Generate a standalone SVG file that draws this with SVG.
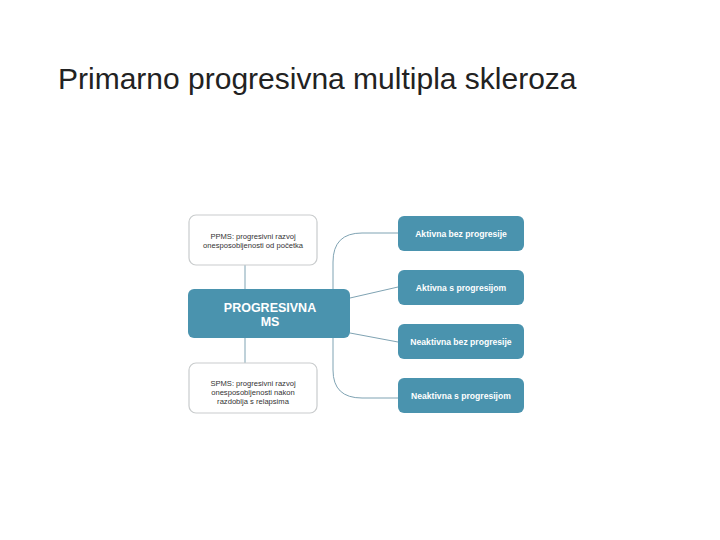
<svg xmlns="http://www.w3.org/2000/svg" width="720" height="540" viewBox="0 0 720 540">
<style>
.title{font-family:"Liberation Sans",Arial,sans-serif;font-size:30px;fill:#222}
.wbox{fill:#fff;stroke:#c9cccd;stroke-width:1.2}
.bbox{fill:#4a93ae}
.dt{font-family:"Liberation Sans",Arial,sans-serif;font-size:7.6px;fill:#333;text-anchor:middle}
.lt{font-family:"Liberation Sans",Arial,sans-serif;font-size:8.6px;fill:#fff;text-anchor:middle;font-weight:bold}
.ct{font-family:"Liberation Sans",Arial,sans-serif;font-size:12.5px;fill:#fff;text-anchor:middle;font-weight:bold}
.conn{fill:none;stroke:#7fa3b3;stroke-width:1}
</style>
<rect width="720" height="540" fill="#fff"/>
<text class="title" x="58" y="89">Primarno progresivna multipla skleroza</text>
<g id="connectors">
<path class="conn" d="M245,265 V289 M245,338 V363"/>
<path class="conn" d="M398,233 H362 Q333,233 333,262 V370 Q333,398 362,398 H398"/>
<path class="conn" d="M350,298 L398,287 M350,333 L398,342"/>
</g>
<g id="ppms">
<rect class="wbox" x="189" y="215" width="128" height="50" rx="7"/>
<text class="dt" x="253" y="238.5">PPMS: progresivni razvoj</text>
<text class="dt" x="253" y="248">onesposobljenosti od početka</text>
</g>
<g id="spms">
<rect class="wbox" x="189" y="363" width="128" height="50" rx="7"/>
<text class="dt" x="253" y="385.5">SPMS: progresivni razvoj</text>
<text class="dt" x="253" y="394.5">onesposobljenosti nakon</text>
<text class="dt" x="253" y="403.5">razdoblja s relapsima</text>
</g>
<g id="center">
<rect class="bbox" x="188" y="289" width="162" height="49" rx="6"/>
<text class="ct" x="270" y="311.5">PROGRESIVNA</text>
<text class="ct" x="270" y="325.5">MS</text>
</g>
<g id="r1">
<rect class="bbox" x="398" y="216" width="126" height="35" rx="6"/>
<text class="lt" x="461" y="236.5">Aktivna bez progresije</text>
</g>
<g id="r2">
<rect class="bbox" x="398" y="270" width="126" height="35" rx="6"/>
<text class="lt" x="461" y="290.5">Aktivna s progresijom</text>
</g>
<g id="r3">
<rect class="bbox" x="398" y="324" width="126" height="35" rx="6"/>
<text class="lt" x="461" y="344.5">Neaktivna bez progresije</text>
</g>
<g id="r4">
<rect class="bbox" x="398" y="378" width="126" height="35" rx="6"/>
<text class="lt" x="461" y="398.5">Neaktivna s progresijom</text>
</g>
</svg>
